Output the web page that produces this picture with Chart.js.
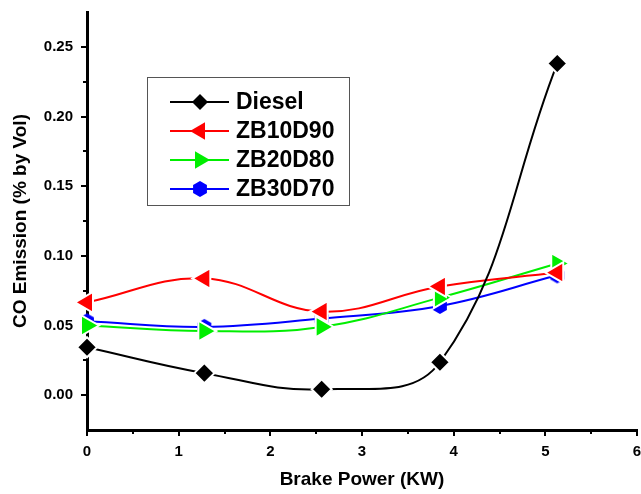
<!DOCTYPE html>
<html>
<head>
<meta charset="utf-8">
<script src="https://cdn.jsdelivr.net/npm/chart.js@4/dist/chart.umd.min.js"></script>
<style>
  html, body { margin: 0; padding: 0; background: #fff; }
  #wrap { width: 641px; height: 494px; }
</style>
</head>
<body>
<div id="wrap"><canvas id="myChart" width="641" height="494"></canvas></div>
<script>
// data
const brakePower = [0, 1.28, 2.56, 3.85, 5.13];
const diesel  = [0.0344, 0.0158, 0.0043, 0.0236, 0.238];
const zb10d90 = [0.0666, 0.0838, 0.0600, 0.0780, 0.0880];
const zb20d80 = [0.0500, 0.0460, 0.0490, 0.0700, 0.0945];
const zb30d70 = [0.0530, 0.0490, 0.0550, 0.0640, 0.0860];

const xTicks = [0, 1, 2, 3, 4, 5, 6];
const yTicks = [0.00, 0.05, 0.10, 0.15, 0.20, 0.25];
const xMinor = [0.5, 1.5, 2.5, 3.5, 4.5, 5.5];
const yMinor = [0.025, 0.075, 0.125, 0.175, 0.225];

const FONT = '"Liberation Sans", Arial, sans-serif';

// hexagon marker for the blue series
function hexagon(r, color) {
  const c = document.createElement('canvas');
  c.width = c.height = r * 2 + 2;
  const g = c.getContext('2d');
  g.fillStyle = color;
  g.beginPath();
  for (let i = 0; i < 6; i++) {
    const a = Math.PI / 6 + i * Math.PI / 3;
    const px = r + 1 + r * Math.cos(a), py = r + 1 + r * Math.sin(a);
    if (i === 0) g.moveTo(px, py); else g.lineTo(px, py);
  }
  g.closePath();
  g.fill();
  return c;
}
const hexMarker = hexagon(8, '#0000ff');

function toPts(arr) {
  return arr.map((v, i) => ({ x: brakePower[i], y: v }));
}

const series = [
  { label: 'Diesel',  data: diesel,  color: '#000000', style: 'rectRot',  rot: 0,   radius: 10 },
  { label: 'ZB10D90', data: zb10d90, color: '#ff0000', style: 'triangle', rot: -90, radius: 12 },
  { label: 'ZB20D80', data: zb20d80, color: '#00ee00', style: 'triangle', rot: 90,  radius: 12 },
  { label: 'ZB30D70', data: zb30d70, color: '#0000ff', style: hexMarker,  rot: 0,   radius: 9 }
];

// minor ticks on both axes
const minorTicks = {
  id: 'minorTicks',
  afterDraw(chart) {
    const ctx = chart.ctx, xs = chart.scales.x, ys = chart.scales.y;
    ctx.save();
    ctx.strokeStyle = '#000';
    ctx.lineWidth = 2;
    ctx.beginPath();
    xMinor.forEach(v => {
      const px = Math.round(xs.getPixelForValue(v));
      ctx.moveTo(px, xs.top); ctx.lineTo(px, xs.top + 4);
    });
    yMinor.forEach(v => {
      const py = Math.round(ys.getPixelForValue(v));
      ctx.moveTo(ys.right, py); ctx.lineTo(ys.right - 4, py);
    });
    ctx.stroke();
    ctx.restore();
  }
};

// legend box inside the plot
const boxLegend = {
  id: 'boxLegend',
  afterDraw(chart) {
    const ctx = chart.ctx;
    const bx = 147, by = 77, bw = 202, bh = 128;
    ctx.save();
    ctx.strokeStyle = '#555';
    ctx.lineWidth = 1;
    ctx.fillStyle = '#fff';
    ctx.fillRect(bx, by, bw, bh);
    ctx.strokeRect(bx + 0.5, by + 0.5, bw, bh);
    ctx.font = 'bold 23px ' + FONT;
    ctx.textBaseline = 'middle';
    series.forEach((s, i) => {
      const y = by + 25 + i * 29;
      ctx.strokeStyle = s.color;
      ctx.lineWidth = 2;
      ctx.beginPath();
      ctx.moveTo(170, y); ctx.lineTo(229, y);
      ctx.stroke();
      ctx.fillStyle = s.color;
      Chart.helpers.drawPoint(ctx, {
        pointStyle: s.style, rotation: s.rot, radius: s.radius - 2, borderWidth: 0
      }, 200, y);
      ctx.fillStyle = '#000';
      ctx.fillText(s.label, 236, y + 1);
    });
    ctx.restore();
  }
};

const data = {
  datasets: series.map(s => ({
    label: s.label,
    data: toPts(s.data),
    borderColor: s.color,
    backgroundColor: s.color,
    borderWidth: 2,
    tension: 0.4,
    pointStyle: s.style,
    rotation: s.rot,
    pointRadius: s.radius,
    pointBorderColor: '#fff',
    pointBorderWidth: 2,
    clip: false
  }))
};

const config = {
  type: 'line',
  data,
  options: {
    responsive: false,
    animation: false,
    layout: { autoPadding: false, padding: { top: 12, right: 4, left: 0, bottom: 0 } },
    plugins: { legend: { display: false }, tooltip: { enabled: false } },
    scales: {
      x: {
        type: 'linear',
        min: 0, max: 6,
        afterBuildTicks: s => { s.ticks = xTicks.map(v => ({ value: v })); },
        afterFit: s => { s.height = 64; s.paddingLeft = 0; s.paddingRight = 0; },
        border: { display: true, color: '#000', width: 3 },
        grid: { drawOnChartArea: false, drawTicks: true, tickLength: 6, color: '#000', lineWidth: 2 },
        ticks: { color: '#000', padding: 7, maxRotation: 0, font: { family: FONT, size: 15, weight: 'bold' } },
        title: { display: true, text: 'Brake Power (KW)', color: '#000', padding: { top: 8, bottom: 3 },
                 font: { family: FONT, size: 19, weight: 'bold' } }
      },
      y: {
        type: 'linear',
        min: -0.025, max: 0.275,
        afterBuildTicks: s => { s.ticks = yTicks.map(v => ({ value: v })); },
        afterFit: s => { s.width = 87; s.paddingTop = 0; s.paddingBottom = 0; },
        border: { display: true, color: '#000', width: 3 },
        grid: { drawOnChartArea: false, drawTicks: true, tickLength: 6, color: '#000', lineWidth: 2 },
        ticks: { color: '#000', padding: 8, callback: v => v.toFixed(2),
                 font: { family: FONT, size: 15, weight: 'bold' } },
        title: { display: true, text: 'CO Emission (% by Vol)', color: '#000', padding: { top: 9, bottom: 8 },
                 font: { family: FONT, size: 19, weight: 'bold' } }
      }
    }
  },
  plugins: [minorTicks, boxLegend]
};

const myChart = new Chart(document.getElementById('myChart'), config);
</script>
</body>
</html>
